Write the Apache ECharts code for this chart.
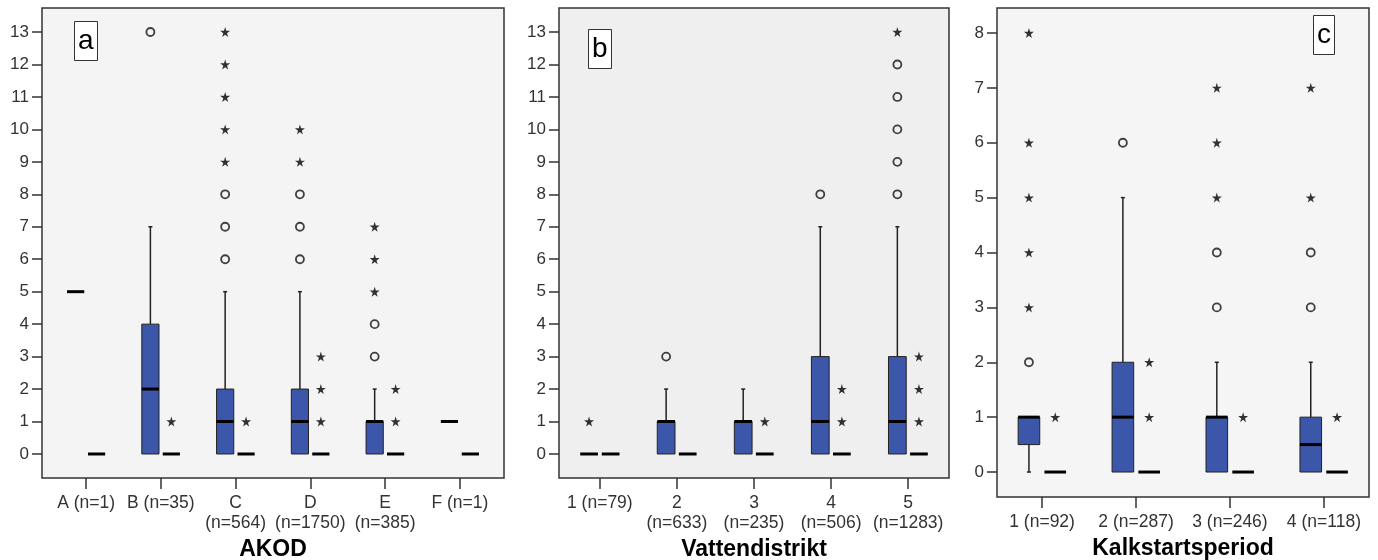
<!DOCTYPE html>
<html>
<head>
<meta charset="utf-8">
<script src="https://cdn.jsdelivr.net/npm/echarts@6/dist/echarts.min.js"></script>
<style>
html, body { margin: 0; background: #fff; }
#chart { width: 1378px; height: 560px; }
</style>
</head>
<body>
<div id="chart"></div>
<script>
// box stats are [min, q1, median, q3, max]; outliers are [categoryIndex, value]

// panel a - AKOD
var akodLabels = ['A (n=1)', 'B (n=35)', 'C\n(n=564)', 'D\n(n=1750)', 'E\n(n=385)', 'F (n=1)'];
var akodBlue = [[5, 5, 5, 5, 5], [0, 0, 2, 4, 7], [0, 0, 1, 2, 5], [0, 0, 1, 2, 5], [0, 0, 1, 1, 2], [1, 1, 1, 1, 1]];
var akodSecond = [[0, 0, 0, 0, 0], [0, 0, 0, 0, 0], [0, 0, 0, 0, 0], [0, 0, 0, 0, 0], [0, 0, 0, 0, 0], [0, 0, 0, 0, 0]];
var akodBlueCircles = [[1, 13], [2, 6], [2, 7], [2, 8], [3, 6], [3, 7], [3, 8], [4, 3], [4, 4]];
var akodBlueStars = [[2, 9], [2, 10], [2, 11], [2, 12], [2, 13], [3, 9], [3, 10], [4, 5], [4, 6], [4, 7]];
var akodSecondStars = [[1, 1], [2, 1], [3, 1], [3, 2], [3, 3], [4, 1], [4, 2]];

// panel b - Vattendistrikt
var vdLabels = ['1 (n=79)', '2\n(n=633)', '3\n(n=235)', '4\n(n=506)', '5\n(n=1283)'];
var vdBlue = [[0, 0, 0, 0, 0], [0, 0, 1, 1, 2], [0, 0, 1, 1, 2], [0, 0, 1, 3, 7], [0, 0, 1, 3, 7]];
var vdSecond = [[0, 0, 0, 0, 0], [0, 0, 0, 0, 0], [0, 0, 0, 0, 0], [0, 0, 0, 0, 0], [0, 0, 0, 0, 0]];
var vdBlueCircles = [[1, 3], [3, 8], [4, 8], [4, 9], [4, 10], [4, 11], [4, 12]];
var vdBlueStars = [[0, 1], [4, 13]];
var vdSecondStars = [[2, 1], [3, 1], [3, 2], [4, 1], [4, 2], [4, 3]];

// panel c - Kalkstartsperiod
var ksLabels = ['1 (n=92)', '2 (n=287)', '3 (n=246)', '4 (n=118)'];
var ksBlue = [[0, 0.5, 1, 1, 1], [0, 0, 1, 2, 5], [0, 0, 1, 1, 2], [0, 0, 0.5, 1, 2]];
var ksSecond = [[0, 0, 0, 0, 0], [0, 0, 0, 0, 0], [0, 0, 0, 0, 0], [0, 0, 0, 0, 0]];
var ksBlueCircles = [[0, 2], [1, 6], [2, 3], [2, 4], [3, 3], [3, 4]];
var ksBlueStars = [[0, 3], [0, 4], [0, 5], [0, 6], [0, 8], [2, 5], [2, 6], [2, 7], [3, 5], [3, 7]];
var ksSecondStars = [[0, 1], [1, 1], [1, 2], [2, 1], [3, 1]];

var BLUE = '#3c57a9';
var INK = '#222';
var OFFSET = 0.14;
var BOX_W = 0.23;
var STAR = 'path://M50,0 L61,35 L98,35 L68,57 L79,91 L50,70 L21,91 L32,57 L2,35 L39,35 Z';
var FONT = '"Liberation Sans", Arial, sans-serif';

function boxRenderer(offset) {
  return function (params, api) {
    var i = api.value(0);
    var lo = api.coord([i + offset, api.value(1)]);
    var q1 = api.coord([i + offset, api.value(2)]);
    var md = api.coord([i + offset, api.value(3)]);
    var q3 = api.coord([i + offset, api.value(4)]);
    var hi = api.coord([i + offset, api.value(5)]);
    var w = api.size([BOX_W, 0])[0];
    var x = md[0];
    var line = { stroke: INK, lineWidth: 1.5 };
    var kids = [];
    if (q3[1] - hi[1] > 0.5) {
      kids.push({ type: 'line', shape: { x1: x, y1: q3[1], x2: x, y2: hi[1] }, style: line });
      kids.push({ type: 'line', shape: { x1: x - 2, y1: hi[1], x2: x + 2, y2: hi[1] }, style: line });
    }
    if (lo[1] - q1[1] > 0.5) {
      kids.push({ type: 'line', shape: { x1: x, y1: q1[1], x2: x, y2: lo[1] }, style: line });
      kids.push({ type: 'line', shape: { x1: x - 2, y1: lo[1], x2: x + 2, y2: lo[1] }, style: line });
    }
    if (q1[1] - q3[1] > 0.5) {
      kids.push({
        type: 'rect',
        shape: { x: x - w / 2, y: q3[1], width: w, height: q1[1] - q3[1] },
        style: { fill: BLUE, stroke: INK, lineWidth: 1 }
      });
    }
    kids.push({
      type: 'line',
      shape: { x1: x - w / 2, y1: md[1], x2: x + w / 2, y2: md[1] },
      style: { stroke: '#000', lineWidth: 3 }
    });
    return { type: 'group', children: kids };
  };
}

function boxSeries(stats, offset, idx) {
  return {
    type: 'custom',
    xAxisIndex: idx,
    yAxisIndex: idx,
    renderItem: boxRenderer(offset),
    encode: { x: 0, y: [1, 2, 3, 4, 5] },
    data: stats.map(function (s, i) { return [i].concat(s); }),
    z: 2
  };
}

function pointSeries(points, offset, idx, star) {
  return {
    type: 'scatter',
    xAxisIndex: idx,
    yAxisIndex: idx,
    symbol: star ? STAR : 'circle',
    symbolSize: star ? 10 : 8,
    itemStyle: star
      ? { color: '#000' }
      : { color: 'rgba(0,0,0,0)', borderColor: '#111', borderWidth: 1.8 },
    data: points.map(function (p) { return [p[0] + offset, p[1]]; }),
    z: 3
  };
}

function range(n) {
  var out = [];
  for (var i = 0; i < n; i++) out.push(i);
  return out;
}

function xAxisFor(idx, labels, pad, name, gap) {
  return {
    type: 'value',
    gridIndex: idx,
    min: -pad,
    max: labels.length - 1 + pad,
    splitLine: { show: false },
    axisLine: { show: false, onZero: false },
    axisTick: { customValues: range(labels.length), length: 11, lineStyle: { color: '#333', width: 1.5 } },
    axisLabel: {
      customValues: range(labels.length),
      formatter: function (v) { return labels[Math.round(v)]; },
      margin: 15,
      color: '#333',
      fontSize: 17.5,
      lineHeight: 20,
      fontFamily: FONT
    },
    name: name,
    nameLocation: 'middle',
    nameGap: gap,
    nameTextStyle: { color: '#000', fontSize: 23, fontWeight: 'bold', fontFamily: FONT }
  };
}

function yAxisFor(idx, top, pad) {
  return {
    type: 'value',
    gridIndex: idx,
    min: -pad,
    max: top + pad,
    splitLine: { show: false },
    axisLine: { show: false, onZero: false },
    axisTick: { customValues: range(top + 1), length: 10, lineStyle: { color: '#333', width: 1.5 } },
    axisLabel: {
      customValues: range(top + 1),
      margin: 13,
      color: '#333',
      fontSize: 17,
      fontFamily: FONT
    }
  };
}

function panelTag(text, left, top) {
  return {
    text: text,
    left: left,
    top: top,
    padding: [3, 4],
    borderWidth: 1,
    borderColor: '#333',
    backgroundColor: '#fff',
    textStyle: { fontSize: 28, fontWeight: 'normal', color: '#000', fontFamily: FONT, lineHeight: 34 }
  };
}

function gridBox(left, right, bottom, bg) {
  return {
    left: left, right: right, top: 8, bottom: bottom,
    outerBoundsMode: 'none', containLabel: false,
    show: true, backgroundColor: bg, borderColor: '#333', borderWidth: 1.5
  };
}

var chart = echarts.init(document.getElementById('chart'));
chart.setOption({
  backgroundColor: '#fff',
  animation: false,
  title: [panelTag('a', 74, 21), panelTag('b', 588, 29), panelTag('c', 1313, 15)],
  grid: [
    gridBox(42, 874, 82, '#f4f4f4'),
    gridBox(559, 429, 82, '#efefef'),
    gridBox(997, 9, 63, '#f5f5f5')
  ],
  xAxis: [
    xAxisFor(0, akodLabels, 0.59, 'AKOD', 57),
    xAxisFor(1, vdLabels, 0.53, 'Vattendistrikt', 57),
    xAxisFor(2, ksLabels, 0.48, 'Kalkstartsperiod', 38)
  ],
  yAxis: [
    yAxisFor(0, 13, 0.74),
    yAxisFor(1, 13, 0.74),
    yAxisFor(2, 8, 0.455)
  ],
  series: [
    boxSeries(akodBlue, -OFFSET, 0),
    boxSeries(akodSecond, OFFSET, 0),
    pointSeries(akodBlueCircles, -OFFSET, 0, false),
    pointSeries(akodBlueStars, -OFFSET, 0, true),
    pointSeries(akodSecondStars, OFFSET, 0, true),

    boxSeries(vdBlue, -OFFSET, 1),
    boxSeries(vdSecond, OFFSET, 1),
    pointSeries(vdBlueCircles, -OFFSET, 1, false),
    pointSeries(vdBlueStars, -OFFSET, 1, true),
    pointSeries(vdSecondStars, OFFSET, 1, true),

    boxSeries(ksBlue, -OFFSET, 2),
    boxSeries(ksSecond, OFFSET, 2),
    pointSeries(ksBlueCircles, -OFFSET, 2, false),
    pointSeries(ksBlueStars, -OFFSET, 2, true),
    pointSeries(ksSecondStars, OFFSET, 2, true)
  ]
});
</script>
</body>
</html>
